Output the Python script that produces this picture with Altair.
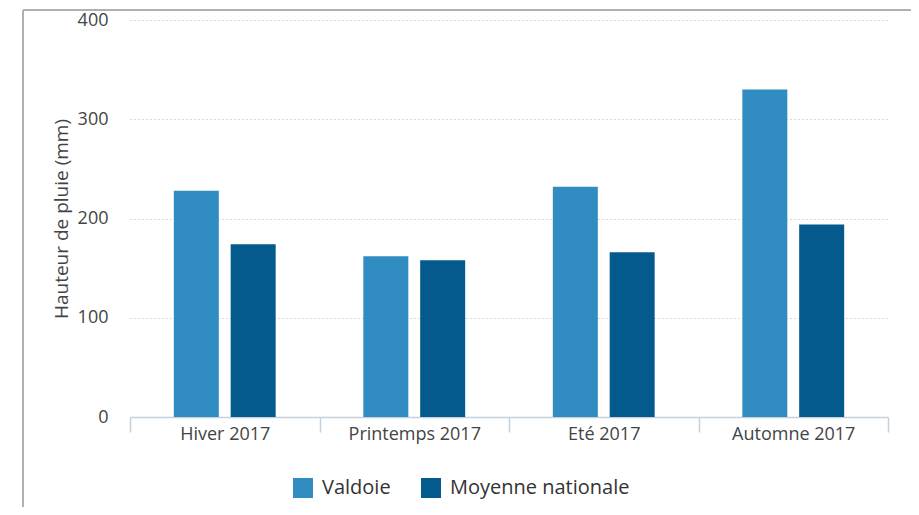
import altair as alt
import pandas as pd

seasons = ["Hiver 2017", "Printemps 2017", "Eté 2017", "Automne 2017"]
series = ["Valdoie", "Moyenne nationale"]
valdoie = [228, 162, 232, 330]
nationale = [174, 158, 166, 194]
colors = ["#318cc1", "#045a8d"]

rows = []
for s, v, n in zip(seasons, valdoie, nationale):
    rows.append({"saison": s, "serie": series[0], "mm": v})
    rows.append({"saison": s, "serie": series[1], "mm": n})
df = pd.DataFrame(rows)

FONT = "Open Sans"

bars = alt.Chart(df).mark_bar(size=45).encode(
    x=alt.X("saison:N", sort=seasons, title=None,
            scale=alt.Scale(paddingInner=0, paddingOuter=0),
            axis=alt.Axis(labelAngle=0, tickBand="extent", tickSize=15,
                          domainColor="#c3d1dc", tickColor="#c3d1dc",
                          domainWidth=1.5, tickWidth=1.5,
                          labelFontSize=18, labelColor="#444", labelFont=FONT,
                          labelPadding=-7)),
    xOffset=alt.XOffset("serie:N", sort=series,
                        scale=alt.Scale(paddingInner=0.2105, paddingOuter=0.772)),
    y=alt.Y("mm:Q", title="Hauteur de pluie (mm)",
            scale=alt.Scale(domain=[0, 400]),
            axis=alt.Axis(values=[0, 100, 200, 300, 400], domain=False, ticks=False,
                          grid=True, gridColor="#b4b4b4", gridDash=[1, 3], gridWidth=1,
                          labelFontSize=18, labelColor="#444", labelFont=FONT,
                          labelPadding=22, titleFontSize=19, titleColor="#444",
                          titleFont=FONT, titleFontWeight="normal", titlePadding=6)),
    color=alt.Color("serie:N", sort=series,
                    scale=alt.Scale(domain=series, range=colors),
                    legend=alt.Legend(title=None, orient="none", legendX=163, legendY=458,
                                      direction="horizontal", symbolType="square",
                                      symbolSize=400, symbolStrokeWidth=0,
                                      labelFontSize=20, labelColor="#333", labelFont=FONT,
                                      labelOffset=9, columnPadding=30, labelLimit=0)),
)

frame_top = alt.Chart(pd.DataFrame({"k": [0]})).mark_rule(color="#b0b0b0", strokeWidth=2).encode(
    x=alt.value(-107), x2=alt.value(790), y=alt.value(-10)
)
frame_left = alt.Chart(pd.DataFrame({"k": [0]})).mark_rule(color="#b0b0b0", strokeWidth=2).encode(
    x=alt.value(-107), y=alt.value(-10), y2=alt.value(500)
)

chart = alt.layer(bars, frame_top, frame_left).properties(
    width=758, height=397,
    autosize=alt.AutoSizeParams(type="none"),
    padding={"left": 122, "top": 12, "right": 23, "bottom": 90},
).configure_view(stroke=None)

chart.save("out.html", embed_options={"renderer": "svg", "actions": False})
